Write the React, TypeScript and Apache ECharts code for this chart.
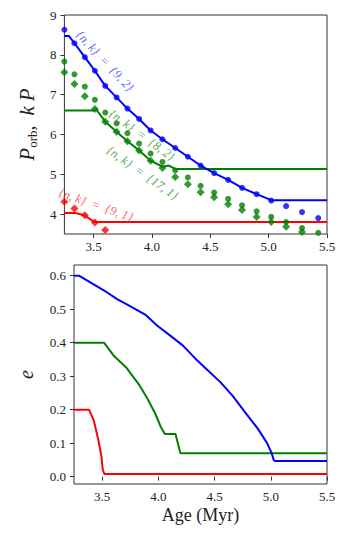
import React, { useEffect, useRef } from "react";
import * as echarts from "echarts";

// ---- Top panel: orbital period markers (shared ages) ----
const markerAges = [3.25, 3.336, 3.425, 3.511, 3.6, 3.697, 3.79, 3.89, 3.989, 4.09, 4.2, 4.308, 4.417, 4.533, 4.653, 4.772, 4.897, 5.022, 5.15, 5.286, 5.425];
const blueMarkers = [8.63, 8.29, 7.94, 7.6, 7.22, 6.93, 6.65, 6.39, 6.1, 5.88, 5.66, 5.44, 5.22, 5.03, 4.86, 4.66, 4.5, 4.34, 4.2, 4.05, 3.9];
const greenDots = [7.83, 7.51, 7.2, 6.87, 6.55, 6.28, 6.03, 5.77, 5.52, 5.31, 5.1, 4.92, 4.71, 4.54, 4.38, 4.22, 4.07, 3.93, 3.8, 3.65, 3.53];
const greenDiamonds = [7.56, 7.27, 6.96, 6.64, 6.32, 6.07, 5.83, 5.6, 5.34, 5.16, 4.93, 4.75, 4.55, 4.42, 4.25, 4.1, 3.93, 3.8, 3.68, 3.55, 3.42];
const redDiamonds = [4.31, 4.14, 3.97, 3.79, 3.6, 3.48];

// ---- Top panel: lines ----
const bluePorbAges = [3.25, 3.29, 3.336, 3.425, 3.511, 3.6, 3.697, 3.79, 3.89, 3.989, 4.09, 4.2, 4.308, 4.417, 4.533, 4.653, 4.772, 4.897, 5.022, 5.5];
const bluePorb = [8.47, 8.47, 8.29, 7.94, 7.6, 7.22, 6.93, 6.65, 6.39, 6.1, 5.88, 5.66, 5.44, 5.22, 5.03, 4.86, 4.66, 4.5, 4.35, 4.35];
const greenPorbAges = [3.25, 3.5, 3.52, 3.6, 3.697, 3.79, 3.89, 3.989, 4.09, 4.146, 4.2, 5.5];
const greenPorb = [6.6, 6.6, 6.64, 6.32, 6.07, 5.83, 5.6, 5.34, 5.19, 5.22, 5.13, 5.13];
const redPorbAges = [3.25, 3.34, 3.42, 3.508, 5.5];
const redPorb = [4.03, 4.03, 3.97, 3.8, 3.8];

// ---- Bottom panel: eccentricity ----
const blueEAges = [3.25, 3.294, 3.41, 3.522, 3.633, 3.744, 3.883, 3.994, 4.106, 4.217, 4.328, 4.439, 4.55, 4.661, 4.772, 4.883, 4.967, 5.008, 5.026, 5.035, 5.5];
const blueE = [0.6, 0.6, 0.577, 0.555, 0.53, 0.51, 0.484, 0.45, 0.421, 0.392, 0.353, 0.318, 0.283, 0.241, 0.192, 0.144, 0.1, 0.07, 0.05, 0.047, 0.047];
const greenEAges = [3.25, 3.517, 3.606, 3.717, 3.828, 3.9, 3.97, 4.02, 4.058, 4.153, 4.196, 5.5];
const greenE = [0.4, 0.4, 0.36, 0.325, 0.275, 0.235, 0.19, 0.15, 0.127, 0.127, 0.07, 0.07];
const redEAges = [3.25, 3.383, 3.425, 3.467, 3.494, 3.506, 3.52, 5.5];
const redE = [0.2, 0.2, 0.169, 0.109, 0.06, 0.02, 0.008, 0.008];

// ---- Ticks ----
const xTicks = [3.5, 4.0, 4.5, 5.0, 5.5];
const topYTicks = [4, 5, 6, 7, 8, 9];
const bottomYTicks = [0.0, 0.1, 0.2, 0.3, 0.4, 0.5, 0.6];

const BLUE = "#0000ff";
const GREEN = "#008000";
const RED = "#ff0000";
const SERIF = "Liberation Serif";

const zip = (xs: number[], ys: number[]) => ys.map((y, i) => [xs[i], y]);

export default function App() {
  const ref = useRef<HTMLDivElement>(null);
  useEffect(() => {
    if (!ref.current) return;
    const chart = echarts.init(ref.current, null, { renderer: "svg" });
    const labelStyle = { fontFamily: SERIF, fontSize: 13, color: "#222" };
    const xAxisBase = (gridIndex: number, showName: boolean) => ({
      type: "value",
      gridIndex,
      min: 3.25,
      max: 5.5,
      axisLine: { show: false },
      splitLine: { show: false },
      axisTick: { show: true, length: 4, inside: false, customValues: xTicks, lineStyle: { color: "#333" } },
      axisLabel: { ...labelStyle, margin: 6, customValues: xTicks, formatter: (v: number) => v.toFixed(1) },
      name: showName ? "Age (Myr)" : "",
      nameLocation: "middle",
      nameGap: 22,
      nameTextStyle: { fontFamily: SERIF, fontSize: 18, color: "#222" },
    });
    const line = (xi: number, ages: number[], vals: number[], color: string) => ({
      type: "line",
      xAxisIndex: xi,
      yAxisIndex: xi,
      data: zip(ages, vals),
      showSymbol: false,
      symbol: "none",
      lineStyle: { color, width: 2 },
      z: 2,
    });
    const scatter = (vals: number[], color: string, symbol: string, size: number) => ({
      type: "scatter",
      xAxisIndex: 0,
      yAxisIndex: 0,
      data: zip(markerAges, vals),
      symbol,
      symbolSize: size,
      itemStyle: { color },
      z: 3,
    });
    const annot = (text: string, x: number, y: number, deg: number, color: string) => ({
      type: "text",
      x,
      y,
      rotation: (-deg * Math.PI) / 180,
      style: {
        text,
        fill: color,
        fontFamily: SERIF,
        fontStyle: "italic",
        fontSize: 12.5,
        align: "center",
        verticalAlign: "middle",
      },
      z: 10,
    });
    chart.setOption({
      animation: false,
      grid: [
        { left: 49, top: 7, width: 270, height: 219, show: true, borderColor: "#333", borderWidth: 1, backgroundColor: "transparent" },
        { left: 49, top: 257, width: 270, height: 219, show: true, borderColor: "#333", borderWidth: 1, backgroundColor: "transparent" },
      ],
      xAxis: [xAxisBase(0, false), xAxisBase(1, true)],
      yAxis: [
        {
          type: "value",
          gridIndex: 0,
          min: 3.5,
          max: 9,
          axisLine: { show: false },
          splitLine: { show: false },
          axisTick: { show: true, length: 4, customValues: topYTicks, lineStyle: { color: "#333" } },
          axisLabel: { ...labelStyle, margin: 8, customValues: topYTicks, formatter: (v: number) => String(v) },
          name: "{i|P}{s|orb}{n|,  }{i|k}{n| }{i|P}",
          nameLocation: "middle",
          nameGap: 21,
          nameTextStyle: {
            rich: {
              i: { fontFamily: SERIF, fontStyle: "italic", fontSize: 21, color: "#222", lineHeight: 24 },
              s: { fontFamily: SERIF, fontSize: 13, color: "#222", verticalAlign: "bottom", lineHeight: 24, padding: [10, 0, 0, 0] },
              n: { fontFamily: SERIF, fontSize: 20, color: "#222", lineHeight: 24 },
            },
          },
        },
        {
          type: "value",
          gridIndex: 1,
          min: -0.022,
          max: 0.632,
          axisLine: { show: false },
          splitLine: { show: false },
          axisTick: { show: true, length: 4, customValues: bottomYTicks, lineStyle: { color: "#333" } },
          axisLabel: { ...labelStyle, margin: 8, customValues: bottomYTicks, formatter: (v: number) => v.toFixed(1) },
          name: "e",
          nameLocation: "middle",
          nameGap: 38,
          nameTextStyle: { fontFamily: SERIF, fontStyle: "italic", fontSize: 20, color: "#222" },
        },
      ],
      series: [
        line(0, greenPorbAges, greenPorb, GREEN),
        line(0, bluePorbAges, bluePorb, BLUE),
        line(0, redPorbAges, redPorb, RED),
        scatter(blueMarkers, BLUE, "circle", 6),
        scatter(greenDots, GREEN, "circle", 6),
        scatter(greenDiamonds, GREEN, "diamond", 8),
        { ...scatter(redDiamonds, RED, "diamond", 8), data: zip(markerAges.slice(0, redDiamonds.length), redDiamonds) },
        line(1, greenEAges, greenE, GREEN),
        line(1, redEAges, redE, RED),
        line(1, blueEAges, blueE, BLUE),
      ],
      graphic: [
        annot("{n, k}  =  {9, 2}", 97, 53, 47, "rgba(40,40,255,0.75)"),
        annot("{n, k}  =  {8, 2}", 134, 127, 36, "rgba(0,128,0,0.7)"),
        annot("{n, k}  =  {17, 1}", 134.5, 165, 35, "rgba(0,128,0,0.7)"),
        annot("{n, k}  =  {9, 1}", 88, 197, 19, "rgba(255,40,40,0.75)"),
      ],
    });
    return () => chart.dispose();
  }, []);
  return <div ref={ref} style={{ width: 331, height: 523 }} />;
}
